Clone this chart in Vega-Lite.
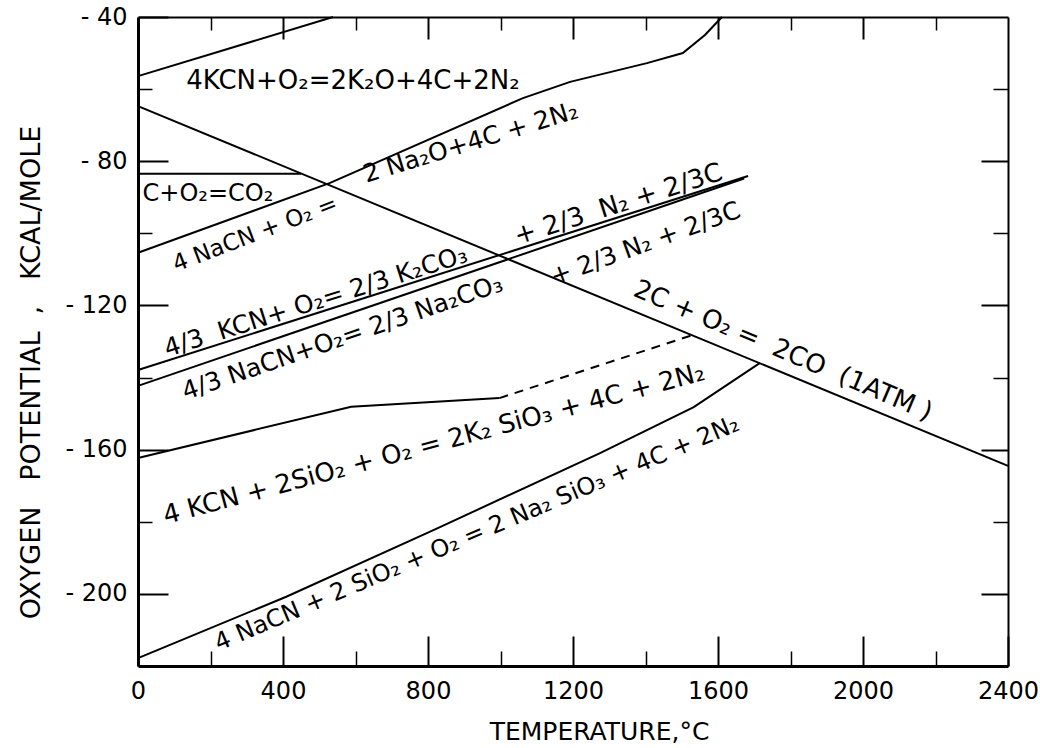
{
  "$schema": "https://vega.github.io/schema/vega-lite/v6.json",
  "width": 870,
  "height": 649,
  "autosize": {"type": "none"},
  "padding": {"left": 138, "top": 17, "right": 32, "bottom": 82},
  "background": "white",
  "config": {
    "view": {"stroke": null},
    "font": "DejaVu Sans",
    "axis": {"grid": false, "tickColor": "black", "domainColor": "black", "labelColor": "black", "titleColor": "black", "labelFont": "DejaVu Sans", "titleFont": "DejaVu Sans", "titleFontWeight": "normal", "labelFlush": false, "labelOverlap": false}
  },
  "datasets": {
    "lines": [
      {"series": "K2O", "x": 0, "y": -56.4},
      {"series": "K2O", "x": 538, "y": -40},
      {"series": "Na2O", "x": 0, "y": -105.4},
      {"series": "Na2O", "x": 530, "y": -86.0},
      {"series": "Na2O", "x": 1062, "y": -62.5},
      {"series": "Na2O", "x": 1192, "y": -58.0},
      {"series": "Na2O", "x": 1404, "y": -52.8},
      {"series": "Na2O", "x": 1503, "y": -50.0},
      {"series": "Na2O", "x": 1564, "y": -45.0},
      {"series": "Na2O", "x": 1611, "y": -40},
      {"series": "CO2", "x": 0, "y": -83.5},
      {"series": "CO2", "x": 450, "y": -83.5},
      {"series": "CO", "x": 0, "y": -64.7},
      {"series": "CO", "x": 2400, "y": -164.5},
      {"series": "K2CO3", "x": 0, "y": -137.9},
      {"series": "K2CO3", "x": 1683, "y": -84.1},
      {"series": "Na2CO3", "x": 0, "y": -142.3},
      {"series": "Na2CO3", "x": 1672, "y": -84.8},
      {"series": "K2SiO3", "x": 0, "y": -162.3},
      {"series": "K2SiO3", "x": 588, "y": -148.1},
      {"series": "K2SiO3", "x": 997, "y": -145.7},
      {"series": "K2SiO3 est", "x": 997, "y": -145.7},
      {"series": "K2SiO3 est", "x": 1527, "y": -128.3},
      {"series": "Na2SiO3", "x": 0, "y": -217.8},
      {"series": "Na2SiO3", "x": 409, "y": -200.8},
      {"series": "Na2SiO3", "x": 815, "y": -182.3},
      {"series": "Na2SiO3", "x": 1276, "y": -160.9},
      {"series": "Na2SiO3", "x": 1533, "y": -148.2},
      {"series": "Na2SiO3", "x": 1715, "y": -136.0}
    ],
    "labels": [
      {"id": "L1", "text": "4KCN+O₂=2K₂O+4C+2N₂", "x": 593, "y": -60.0},
      {"id": "L2", "text": "C+O₂=CO₂", "x": 193, "y": -91.0},
      {"id": "L3a", "text": "4 NaCN + O₂ =", "x": 330, "y": -102.0},
      {"id": "L3b", "text": "2 Na₂O+4C + 2N₂", "x": 924, "y": -76.9},
      {"id": "L4a", "text": "4/3\u00a0 KCN+ O₂= 2/3 K₂CO₃", "x": 497, "y": -121.0},
      {"id": "L4b", "text": "+ 2/3\u00a0 N₂ + 2/3C", "x": 1332, "y": -94.1},
      {"id": "L5a", "text": "4/3 NaCN+O₂= 2/3 Na₂CO₃", "x": 571, "y": -131.0},
      {"id": "L5b", "text": "+ 2/3 N₂ + 2/3C", "x": 1407, "y": -104.9},
      {"id": "L6", "text": "4 KCN + 2SiO₂ + O₂ = 2K₂ SiO₃ + 4C + 2N₂", "x": 822, "y": -160.6},
      {"id": "L7", "text": "4 NaCN + 2 SiO₂ + O₂ = 2 Na₂ SiO₃ + 4C + 2N₂", "x": 943, "y": -185.1},
      {"id": "L8", "text": "2C + O₂ =\u00a0 2CO\u00a0 (1ATM )", "x": 1771, "y": -134.6}
    ]
  },
  "layer": [
    {
      "data": {"name": "lines"},
      "transform": [{"filter": "datum.series != 'K2SiO3 est'"}],
      "mark": {"type": "line", "color": "black", "strokeWidth": 2},
      "encoding": {
        "x": {"field": "x", "type": "quantitative", "scale": {"domain": [0, 2400], "nice": false, "zero": false},
          "axis": {"orient": "bottom", "values": [0, 400, 800, 1200, 1600, 2000, 2400], "format": "d", "tickSize": -30, "tickWidth": 2, "domainWidth": 3, "labelFontSize": 24, "labelPadding": 43, "title": "TEMPERATURE,°C", "titleFontSize": 25, "titleX": 461, "titleY": 65, "titleBaseline": "middle", "titleAlign": "center"}},
        "y": {"field": "y", "type": "quantitative", "scale": {"domain": [-220, -40], "nice": false, "zero": false},
          "axis": {"orient": "left", "values": [-40, -80, -120, -160, -200], "tickSize": -30, "tickWidth": 2, "domainWidth": 3, "labelFontSize": 24, "labelPadding": 41, "labelExpr": "'- ' + abs(datum.value)", "title": "OXYGEN\u00a0\u00a0 POTENTIAL\u00a0 ,\u00a0\u00a0 KCAL/MOLE", "titleFontSize": 27, "titleX": -107, "titleY": 355, "titleBaseline": "middle", "titleAlign": "center", "titleAngle": -90}},
        "detail": {"field": "series"}
      }
    },
    {
      "data": {"name": "lines"},
      "transform": [{"filter": "datum.series == 'K2SiO3 est'"}],
      "mark": {"type": "line", "color": "black", "strokeWidth": 2, "strokeDash": [9, 7]},
      "encoding": {
        "x": {"field": "x", "type": "quantitative",
          "axis": {"orient": "bottom", "values": [200, 600, 1000, 1400, 1800, 2200], "tickSize": -15, "tickWidth": 1.5, "domain": false, "labels": false, "title": null}},
        "y": {"field": "y", "type": "quantitative",
          "axis": {"orient": "left", "values": [-60, -100, -140, -180], "tickSize": -14, "tickWidth": 1.5, "domain": false, "labels": false, "title": null}}
      }
    },
    {
      "data": {"name": "labels"},
      "transform": [{"filter": "datum.id == 'L1'"}],
      "mark": {"type": "text", "fontSize": 26, "align": "center", "baseline": "alphabetic", "angle": 0, "color": "black"},
      "encoding": {
        "x": {"field": "x", "type": "quantitative",
          "axis": {"orient": "top", "values": [400, 800, 1200, 1600, 2000], "tickSize": -22, "tickWidth": 2, "domainWidth": 2, "labels": false, "title": null}},
        "y": {"field": "y", "type": "quantitative",
          "axis": {"orient": "right", "values": [-80, -120, -160, -200], "tickSize": -27, "tickWidth": 2, "domainWidth": 2, "labels": false, "title": null}},
        "text": {"field": "text"}
      }
    },
    {
      "data": {"name": "labels"},
      "transform": [{"filter": "datum.id == 'L2'"}],
      "mark": {"type": "text", "fontSize": 24, "align": "center", "baseline": "alphabetic", "angle": 0, "color": "black"},
      "encoding": {
        "x": {"field": "x", "type": "quantitative",
          "axis": {"orient": "top", "values": [200, 600, 1000, 1400, 1800, 2200], "tickSize": -13, "tickWidth": 1.5, "domain": false, "labels": false, "title": null}},
        "y": {"field": "y", "type": "quantitative",
          "axis": {"orient": "right", "values": [-60, -100, -140, -180], "tickSize": -15, "tickWidth": 1.5, "domain": false, "labels": false, "title": null}},
        "text": {"field": "text"}
      }
    },
    {
      "data": {"name": "labels"},
      "transform": [{"filter": "datum.id == 'L3a'"}],
      "mark": {"type": "text", "fontSize": 23, "align": "center", "baseline": "alphabetic", "angle": 339, "color": "black"},
      "encoding": {"x": {"field": "x", "type": "quantitative", "axis": null}, "y": {"field": "y", "type": "quantitative", "axis": null}, "text": {"field": "text"}}
    },
    {
      "data": {"name": "labels"},
      "transform": [{"filter": "datum.id == 'L3b'"}],
      "mark": {"type": "text", "fontSize": 25, "align": "center", "baseline": "alphabetic", "angle": 343, "color": "black"},
      "encoding": {"x": {"field": "x", "type": "quantitative", "axis": null}, "y": {"field": "y", "type": "quantitative", "axis": null}, "text": {"field": "text"}}
    },
    {
      "data": {"name": "labels"},
      "transform": [{"filter": "datum.id == 'L4a'"}],
      "mark": {"type": "text", "fontSize": 25, "align": "center", "baseline": "alphabetic", "angle": 342.4, "color": "black"},
      "encoding": {"x": {"field": "x", "type": "quantitative", "axis": null}, "y": {"field": "y", "type": "quantitative", "axis": null}, "text": {"field": "text"}}
    },
    {
      "data": {"name": "labels"},
      "transform": [{"filter": "datum.id == 'L4b'"}],
      "mark": {"type": "text", "fontSize": 26, "align": "center", "baseline": "alphabetic", "angle": 342.4, "color": "black"},
      "encoding": {"x": {"field": "x", "type": "quantitative", "axis": null}, "y": {"field": "y", "type": "quantitative", "axis": null}, "text": {"field": "text"}}
    },
    {
      "data": {"name": "labels"},
      "transform": [{"filter": "datum.id == 'L5a'"}],
      "mark": {"type": "text", "fontSize": 25, "align": "center", "baseline": "alphabetic", "angle": 341, "color": "black"},
      "encoding": {"x": {"field": "x", "type": "quantitative", "axis": null}, "y": {"field": "y", "type": "quantitative", "axis": null}, "text": {"field": "text"}}
    },
    {
      "data": {"name": "labels"},
      "transform": [{"filter": "datum.id == 'L5b'"}],
      "mark": {"type": "text", "fontSize": 25, "align": "center", "baseline": "alphabetic", "angle": 340, "color": "black"},
      "encoding": {"x": {"field": "x", "type": "quantitative", "axis": null}, "y": {"field": "y", "type": "quantitative", "axis": null}, "text": {"field": "text"}}
    },
    {
      "data": {"name": "labels"},
      "transform": [{"filter": "datum.id == 'L6'"}],
      "mark": {"type": "text", "fontSize": 26, "align": "center", "baseline": "alphabetic", "angle": 345, "color": "black"},
      "encoding": {"x": {"field": "x", "type": "quantitative", "axis": null}, "y": {"field": "y", "type": "quantitative", "axis": null}, "text": {"field": "text"}}
    },
    {
      "data": {"name": "labels"},
      "transform": [{"filter": "datum.id == 'L7'"}],
      "mark": {"type": "text", "fontSize": 24, "align": "center", "baseline": "alphabetic", "angle": 337, "color": "black"},
      "encoding": {"x": {"field": "x", "type": "quantitative", "axis": null}, "y": {"field": "y", "type": "quantitative", "axis": null}, "text": {"field": "text"}}
    },
    {
      "data": {"name": "labels"},
      "transform": [{"filter": "datum.id == 'L8'"}],
      "mark": {"type": "text", "fontSize": 26, "align": "center", "baseline": "alphabetic", "angle": 23, "color": "black"},
      "encoding": {"x": {"field": "x", "type": "quantitative", "axis": null}, "y": {"field": "y", "type": "quantitative", "axis": null}, "text": {"field": "text"}}
    }
  ],
  "resolve": {"axis": {"x": "independent", "y": "independent"}}
}
